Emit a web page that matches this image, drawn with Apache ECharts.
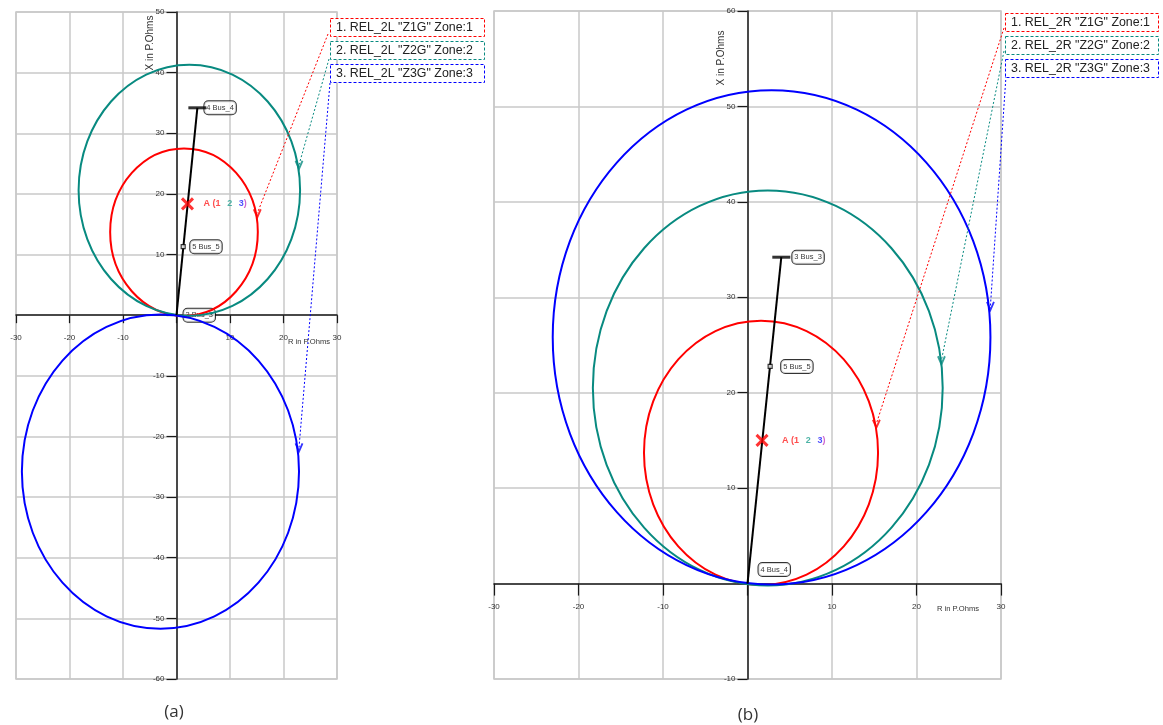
<!DOCTYPE html>
<html>
<head>
<meta charset="utf-8">
<script src="https://cdn.jsdelivr.net/npm/echarts@6/dist/echarts.min.js"></script>
<style>
  html, body { margin: 0; padding: 0; background: #fff; }
  #chart { width: 1163px; height: 725px; }
</style>
</head>
<body>
<div id="chart"></div>
<script>
// zone circles as [centre R, centre X, radius]
const zonesA = [[1.4, 13.7, 13.8], [2.4, 20.6, 20.7], [-3.0, -25.8, 25.9]];
const zonesB = [[1.6, 13.7, 13.85], [2.4, 20.5, 20.7], [2.85, 25.8, 25.9]];
const zoneColors = ['#ff0000', '#088a80', '#0000ff'];

const zoneNamesA = ['1. REL_2L "Z1G" Zone:1', '2. REL_2L "Z2G" Zone:2', '3. REL_2L "Z3G" Zone:3'];
const zoneNamesB = ['1. REL_2R "Z1G" Zone:1', '2. REL_2R "Z2G" Zone:2', '3. REL_2R "Z3G" Zone:3'];

// points where the zone label arrows hit each circle
const arrowsA = [[15.1, 16.8], [22.9, 24.8], [22.9, -21.8]];
const arrowsB = [[15.25, 16.75], [22.95, 23.4], [28.75, 29.1]];

// line impedance and buses
const lineA = [[0, 0], [3.9, 34.2]];
const lineB = [[0, 0], [4.0, 34.2]];
const busesA = [[0, 0, '3 Bus_3'], [1.25, 11.3, '5 Bus_5'], [3.9, 34.2, '4 Bus_4']];
const busesB = [[0, 0, '4 Bus_4'], [2.68, 22.75, '5 Bus_5'], [4.0, 34.2, '3 Bus_3']];
const faultA = [2.05, 18.35];
const faultB = [1.72, 15.0];

const xRange = [-30, 30];
const yRangeA = [-60, 50];
const yRangeB = [-10, 60];

const grids = [
  { left: 16, top: 12, width: 321, height: 667 },
  { left: 494, top: 11, width: 507, height: 668 }
];

const chart = echarts.init(document.getElementById('chart'));

// axes cross at the origin: shift them from the grid edge to zero
function zeroShiftX(g, range) {
  return -g.width * (0 - range[0]) / (range[1] - range[0]);
}
function zeroShiftY(g, range) {
  return -g.height * (0 - range[0]) / (range[1] - range[0]);
}

function axisCommon(tickLen, margin) {
  return {
    type: 'value',
    interval: 10,
    axisLine: { onZero: false, lineStyle: { color: '#1a1a1a', width: 1.5 } },
    axisTick: { length: tickLen, lineStyle: { color: '#1a1a1a', width: 1.2 } },
    axisLabel: {
      fontSize: 8, color: '#333', margin: margin, fontFamily: 'Liberation Sans',
      formatter: v => (v === 0 ? '' : v)
    },
    splitLine: { show: true, lineStyle: { color: '#c8c8c8', width: 1.5 } }
  };
}

function renderZone(params, api) {
  const c = api.coord([api.value(0), api.value(1)]);
  const s = api.size([api.value(2), api.value(2)], [api.value(0), api.value(1)]);
  return {
    type: 'ellipse',
    shape: { cx: c[0], cy: c[1], rx: s[0], ry: s[1] },
    style: { fill: 'none', stroke: zoneColors[params.dataIndex], lineWidth: 2 }
  };
}

const busLabel = {
  show: true, position: 'right', distance: 7,
  formatter: p => p.name,
  fontSize: 7.5, color: '#000', fontFamily: 'Liberation Sans',
  backgroundColor: '#fff', borderColor: '#000', borderWidth: 1, borderRadius: 4,
  padding: [3, 2, 2, 2]
};

function panelSeries(g, zones, arrows, line, buses, fault, opts) {
  return [
    {
      type: 'custom', xAxisIndex: g, yAxisIndex: g,
      renderItem: renderZone, data: zones, z: 3, silent: true
    },
    {
      type: 'line', xAxisIndex: g, yAxisIndex: g, data: line,
      symbol: 'none', lineStyle: { color: '#000', width: 2 }, z: 4
    },
    {
      type: 'scatter', xAxisIndex: g, yAxisIndex: g,
      data: [line[line.length - 1]],
      symbol: 'rect', symbolSize: [18, 3], itemStyle: { color: '#000' }, z: 5
    },
    {
      type: 'scatter', xAxisIndex: g, yAxisIndex: g,
      data: [[buses[1][0], buses[1][1]]],
      symbol: 'rect', symbolSize: 4,
      itemStyle: { color: '#fff', borderColor: '#000', borderWidth: 1.2 }, z: 5
    },
    {
      // bus tags sit under the zone circles, as in the source plot
      type: 'scatter', xAxisIndex: g, yAxisIndex: g, symbolSize: 0, z: 2,
      data: buses.map((b, i) => ({
        name: b[2], value: [b[0], b[1]],
        label: Object.assign({}, busLabel, opts.busLabels[i] || {})
      }))
    },
    {
      type: 'scatter', xAxisIndex: g, yAxisIndex: g, data: [fault], z: 7,
      symbol: 'path://M0,0L10,10M10,0L0,10', symbolSize: 11,
      itemStyle: { color: 'none', borderColor: '#ff0000', borderWidth: 3 },
      label: {
        show: true, position: 'right', distance: opts.faultGap,
        formatter: '{a|A (1}  {b|2}  {c|3}{d|)}',
        rich: {
          a: { color: '#ff2020', fontSize: 9, fontWeight: 'bold', fontFamily: 'Liberation Sans' },
          b: { color: '#20a090', fontSize: 9, fontWeight: 'bold', fontFamily: 'Liberation Sans' },
          c: { color: '#2020ff', fontSize: 9, fontWeight: 'bold', fontFamily: 'Liberation Sans' },
          d: { color: '#c040c0', fontSize: 9, fontWeight: 'bold', fontFamily: 'Liberation Sans' }
        }
      }
    },
    {
      type: 'scatter', xAxisIndex: g, yAxisIndex: g, z: 7,
      symbol: 'path://M0,0L5,9L10,0', symbolSize: [7, 8],
      data: arrows.map((a, i) => ({
        value: a,
        itemStyle: { color: 'none', borderColor: zoneColors[i], borderWidth: 2 }
      }))
    }
  ];
}

const gridOpts = g => Object.assign({
  show: true, borderColor: '#c8c8c8', borderWidth: 1.5,
  containLabel: false, outerBoundsMode: 'none'
}, g);

const option = {
  backgroundColor: '#fff',
  animation: false,
  grid: [gridOpts(grids[0]), gridOpts(grids[1])],
  xAxis: [
    Object.assign(axisCommon(8, 19), {
      gridIndex: 0, min: xRange[0], max: xRange[1], position: 'bottom',
      offset: zeroShiftY(grids[0], yRangeA)
    }),
    Object.assign(axisCommon(12, 19), {
      gridIndex: 1, min: xRange[0], max: xRange[1], position: 'bottom',
      offset: zeroShiftY(grids[1], yRangeB)
    })
  ],
  yAxis: [
    Object.assign(axisCommon(10, 12), {
      gridIndex: 0, min: yRangeA[0], max: yRangeA[1], position: 'left',
      offset: zeroShiftX(grids[0], xRange)
    }),
    Object.assign(axisCommon(10, 12), {
      gridIndex: 1, min: yRangeB[0], max: yRangeB[1], position: 'left',
      offset: zeroShiftX(grids[1], xRange)
    })
  ],
  series: [
    ...panelSeries(0, zonesA, arrowsA, lineA, busesA, faultA, { busLabels: [], faultGap: 8 }),
    ...panelSeries(1, zonesB, arrowsB, lineB, busesB, faultB, {
      busLabels: [{ distance: 11, offset: [0, -14] }, { distance: 11 }, { distance: 11 }],
      faultGap: 12
    })
  ]
};

chart.setOption(option);

// legend boxes (pixel layout) and their dotted leaders to the circles
const legendBoxes = [
  { grid: 0, x: 330, y: 18, w: 154, names: zoneNamesA, arrows: arrowsA,
    starts: [[328, 34], [329, 59], [330, 83]] },
  { grid: 1, x: 1005, y: 13, w: 153, names: zoneNamesB, arrows: arrowsB,
    starts: [[1004, 28], [1004, 51], [1006, 76]] }
];

const graphics = [];
legendBoxes.forEach(box => {
  box.names.forEach((name, i) => {
    const p = chart.convertToPixel({ gridIndex: box.grid }, box.arrows[i]);
    const s = box.starts[i];
    graphics.push({
      type: 'line', z: 20, silent: true,
      shape: { x1: s[0], y1: s[1], x2: p[0], y2: p[1] },
      style: { stroke: zoneColors[i], lineWidth: 1, lineDash: [2, 2] }
    });
    const top = box.y + i * 23;
    graphics.push({
      type: 'rect', z: 21, silent: true,
      shape: { x: box.x + 0.5, y: top + 0.5, width: box.w, height: 18 },
      style: { fill: '#fff', stroke: zoneColors[i], lineWidth: 1, lineDash: [3, 2] }
    });
    graphics.push({
      type: 'text', z: 22, silent: true, x: box.x + 6, y: top + 10,
      style: {
        text: name, fill: '#222', fontSize: 12.4, fontFamily: 'Liberation Sans',
        verticalAlign: 'middle', align: 'left'
      }
    });
  });
});

// axis titles and captions
const texts = [
  { x: 150, y: 43, t: 'X in P.Ohms', size: 10, rot: Math.PI / 2, align: 'center' },
  { x: 721, y: 58, t: 'X in P.Ohms', size: 10, rot: Math.PI / 2, align: 'center' },
  { x: 288, y: 342, t: 'R in P.Ohms', size: 7.6, rot: 0, align: 'left' },
  { x: 937, y: 609, t: 'R in P.Ohms', size: 7.6, rot: 0, align: 'left' },
  { x: 174, y: 712, t: '(a)', size: 17, rot: 0, align: 'center', color: '#333', font: 'Open Sans' },
  { x: 748, y: 715, t: '(b)', size: 17, rot: 0, align: 'center', color: '#333', font: 'Open Sans' }
];
texts.forEach(d => {
  graphics.push({
    type: 'text', z: 22, silent: true, x: d.x, y: d.y, rotation: d.rot,
    style: {
      text: d.t, fill: d.color || '#333', fontSize: d.size,
      fontFamily: d.font || 'Liberation Sans', align: d.align, verticalAlign: 'middle'
    }
  });
});

chart.setOption({ graphic: graphics });

window.addEventListener('resize', () => chart.resize());
</script>
</body>
</html>
